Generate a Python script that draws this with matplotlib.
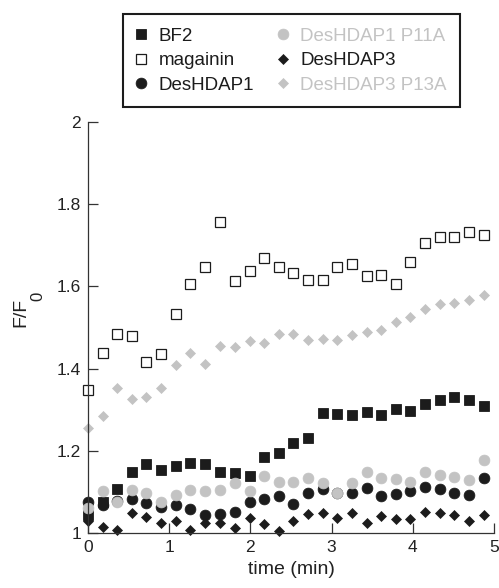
import matplotlib
matplotlib.use("Agg")
import matplotlib.pyplot as plt

plt.rcParams['font.family'] = ['Liberation Sans', 'DejaVu Sans']

# sampling times (min)
time_min = [0.00, 0.18, 0.36, 0.54, 0.72, 0.90, 1.08, 1.26, 1.44, 1.63,
            1.81, 1.99, 2.17, 2.35, 2.53, 2.71, 2.89, 3.07, 3.25, 3.43,
            3.61, 3.79, 3.97, 4.15, 4.33, 4.51, 4.69, 4.88]

# F/F0 readings per peptide
bf2 = [1.045, 1.076, 1.107, 1.148, 1.168, 1.154, 1.162, 1.171, 1.168, 1.148,
       1.146, 1.139, 1.185, 1.194, 1.219, 1.231, 1.292, 1.290, 1.286, 1.294,
       1.286, 1.302, 1.298, 1.315, 1.324, 1.332, 1.324, 1.308]
magainin = [1.349, 1.438, 1.484, 1.479, 1.415, 1.436, 1.534, 1.606, 1.648, 1.757,
            1.613, 1.637, 1.670, 1.646, 1.633, 1.615, 1.615, 1.647, 1.654, 1.625,
            1.627, 1.607, 1.659, 1.705, 1.720, 1.720, 1.733, 1.726]
deshdap1 = [1.075, 1.068, 1.078, 1.082, 1.072, 1.064, 1.067, 1.058, 1.044, 1.046,
            1.052, 1.076, 1.082, 1.089, 1.070, 1.098, 1.107, 1.097, 1.098, 1.109,
            1.091, 1.094, 1.102, 1.111, 1.107, 1.097, 1.093, 1.133]
deshdap1_p11a = [1.062, 1.102, 1.076, 1.105, 1.097, 1.076, 1.093, 1.105, 1.102, 1.105,
                 1.121, 1.102, 1.139, 1.124, 1.124, 1.133, 1.121, 1.097, 1.121, 1.148,
                 1.135, 1.131, 1.125, 1.148, 1.141, 1.137, 1.129, 1.178]
deshdap3 = [1.030, 1.015, 1.007, 1.048, 1.038, 1.025, 1.030, 1.007, 1.024, 1.025,
            1.011, 1.037, 1.022, 1.006, 1.028, 1.046, 1.048, 1.037, 1.048, 1.025,
            1.042, 1.033, 1.033, 1.052, 1.048, 1.044, 1.030, 1.044]
deshdap3_p13a = [1.255, 1.284, 1.354, 1.326, 1.332, 1.354, 1.408, 1.437, 1.410, 1.454,
                 1.452, 1.468, 1.463, 1.485, 1.485, 1.470, 1.472, 1.470, 1.481, 1.489,
                 1.495, 1.513, 1.525, 1.544, 1.558, 1.560, 1.566, 1.579]

black = '#1c1c1c'
grey = '#c3c3c3'
text_col = '#222222'

fig = plt.figure(figsize=(4.99, 5.88), dpi=100)
ax = fig.add_axes([88 / 499, 55 / 588, 406 / 499, 411 / 588])

h_bf2, = ax.plot(time_min, bf2, 's', ms=7.6, mfc=black, mec=black, mew=0.6, clip_on=False)
h_mag, = ax.plot(time_min, magainin, 's', ms=7.2, mfc='white', mec=black, mew=0.9, clip_on=False)
h_d1, = ax.plot(time_min, deshdap1, 'o', ms=7.8, mfc=black, mec=black, mew=0.5, clip_on=False)
h_d3, = ax.plot(time_min, deshdap3, 'D', ms=5.6, mfc=black, mec=black, mew=0.5, clip_on=False)
h_p11, = ax.plot(time_min, deshdap1_p11a, 'o', ms=7.8, mfc=grey, mec=grey, mew=0.5, clip_on=False)
h_p13, = ax.plot(time_min, deshdap3_p13a, 'D', ms=5.6, mfc=grey, mec=grey, mew=0.5, clip_on=False)

ax.set_xlim(0, 5)
ax.set_ylim(1, 2)
ax.set_xticks([0, 1, 2, 3, 4, 5])
ax.set_xticklabels(['0', '1', '2', '3', '4', '5'])
ax.set_yticks([1, 1.2, 1.4, 1.6, 1.8, 2])
ax.set_yticklabels(['1', '1.2', '1.4', '1.6', '1.8', '2'])

for side in ['top', 'right']:
    ax.spines[side].set_visible(False)
for side in ['left', 'bottom']:
    ax.spines[side].set_linewidth(0.9)
    ax.spines[side].set_color('#333333')
ax.tick_params(direction='in', length=7.5, width=0.9, color='#333333',
               labelsize=12.5, pad=5, labelcolor=text_col)

ax.set_xlabel('time (min)', fontsize=14, color=text_col, labelpad=4)

# y label drawn in two pieces so the subscript sits low like the original
fig.text(21 / 499, 1 - 312 / 588, 'F/F', rotation=90, fontsize=14,
         color=text_col, ha='center', va='center')
fig.text(38 / 499, 1 - 296 / 588, '0', rotation=90, fontsize=12,
         color=text_col, ha='center', va='center')

handles = [h_bf2, h_mag, h_d1, h_p11, h_d3, h_p13]
labels = ['BF2', 'magainin', 'DesHDAP1', 'DesHDAP1 P11A', 'DesHDAP3', 'DesHDAP3 P13A']
leg = fig.legend(handles, labels, ncol=2, loc='upper left',
                 bbox_to_anchor=(123 / 499, 1 - 14 / 588), fontsize=13.5,
                 frameon=True, fancybox=False, edgecolor=black, framealpha=1,
                 handlelength=0.53, handletextpad=0.64, columnspacing=1.3,
                 labelspacing=0.4, borderpad=0.72, borderaxespad=0)
leg.get_frame().set_linewidth(1.5)
for txt, col in zip(leg.get_texts(), [black, black, black, grey, black, grey]):
    txt.set_color(col)

fig.savefig('out.png', dpi=100)
